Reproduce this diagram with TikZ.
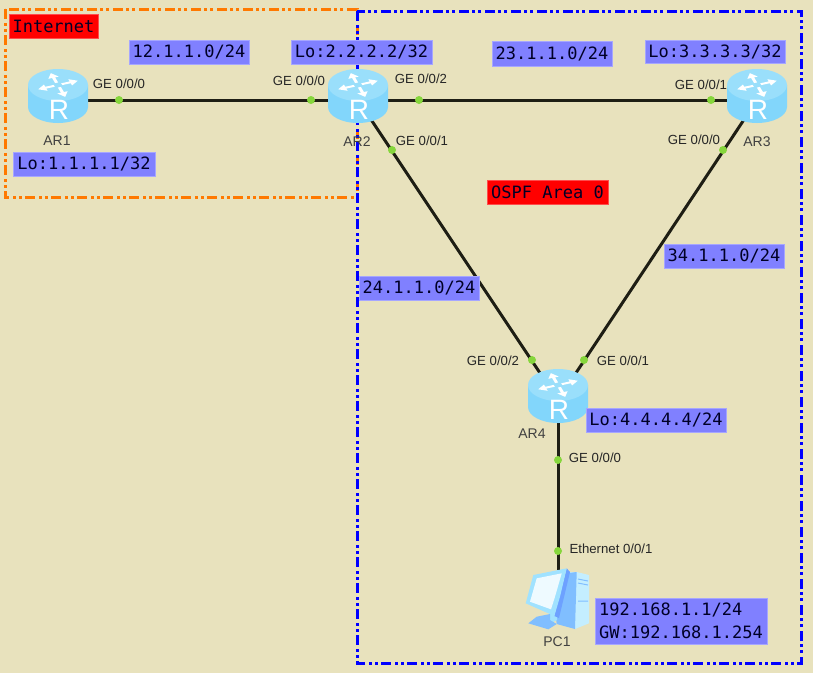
\documentclass[tikz,border=0pt]{standalone}
\usepackage{fontspec}
\setmainfont{Liberation Sans}
\setmonofont{DejaVu Sans Mono}
\definecolor{bgc}{HTML}{E8E2BD}
\definecolor{lblue}{HTML}{8080FF}
\definecolor{linec}{HTML}{1E1E14}
\definecolor{dotg}{HTML}{86D63C}
\definecolor{rtop}{HTML}{9ADFFB}
\definecolor{rbody}{HTML}{82D6FB}
\definecolor{pcblue}{HTML}{80BEFF}
\definecolor{pcpale}{HTML}{C4EEFF}
\definecolor{pcframe}{HTML}{A0E2FF}
\tikzset{
 x=1pt,y=-1pt,
 zone/.style={line width=3pt,dash pattern=on 10pt off 4pt on 3pt off 3pt on 3pt off 3pt},
 lab/.style={font=\ttfamily\fontsize{17}{23}\selectfont,text=black!85!blue,inner sep=0pt,align=left,anchor=center,draw=lblue!70!white,line width=.5pt},
 blab/.style={lab,fill=lblue},
 rlab/.style={lab,fill=red,draw=red!70!white},
 ifl/.style={font=\fontsize{13.2}{15}\selectfont,text=black!85,inner sep=0pt},
 dev/.style={font=\fontsize{14}{16}\selectfont,text=black!75,inner sep=0pt},
 dotn/.style={circle,fill=dotg,inner sep=0pt,minimum size=8pt},
 link/.style={line width=3pt,draw=linec},
 rnode/.style={inner sep=0pt,minimum width=60pt,minimum height=54pt},
}
\newcommand{\routericon}[1]{%
 \begin{scope}[shift={(#1)}]
  \fill[rbody] (-30,-15) -- (-30,7) arc[start angle=180,end angle=0,x radius=30,y radius=16] -- (30,-15) -- cycle;
  \fill[rtop] (0,-15) ellipse[x radius=30,y radius=16];
  \begin{scope}[shift={(0,-15)},yscale=.6]
  \foreach \a in {20,110,200,290}{
   \begin{scope}[rotate=\a]
   \fill[white] (4,-1.6) -- (13,-1.6) -- (13,-5.5) -- (21,0) -- (13,5.5) -- (13,1.6) -- (4,1.6) -- cycle;
   \end{scope}}
  \end{scope}
  \node[white,inner sep=0pt,font=\fontsize{28}{28}\selectfont] at (1,10) {R};
 \end{scope}}
\begin{document}
\begin{tikzpicture}
\useasboundingbox (0,0) rectangle (813,673);
\fill[bgc] (0,0) rectangle (813,673);
% zones
\draw[zone,draw=orange!95!red] (5,9) rectangle (357,197);
\draw[zone,draw=blue] (357,11) rectangle (801,663);
% device nodes
\node[rnode] (AR1) at (58,100) {};
\node[rnode] (AR2) at (358,100) {};
\node[rnode] (AR3) at (757,100) {};
\node[rnode] (AR4) at (558,400) {};
\node[rnode] (PC) at (558,600) {};
% links
\draw[link] (AR1.center) -- (AR2.center);
\draw[link] (AR2.center) -- (AR3.center);
\draw[link] (AR2.center) -- (AR4.center);
\draw[link] (AR3.center) -- (AR4.center);
\draw[link] (AR4.center) -- (PC.center);
% icons
\routericon{AR1.center}
\routericon{AR2.center}
\routericon{AR3.center}
\routericon{AR4.center}
% PC icon
\begin{scope}[shift={(PC.center)}]
 % tower
 \fill[pcpale] (10,-28) -- (18.7,-28) -- (31,-25) -- (31,23.3) -- (17,29) -- cycle;
 \fill[pcblue] (10.3,-27) -- (18.7,-28) -- (17,29) -- (-1.3,24) -- (-3,10) -- cycle;
 \draw[pcblue,line width=1pt] (20,-21) -- (30,-19) (20,-17) -- (30,-15) (20,1) -- (30,1);
 % base
 \fill[pcframe] (-8,10) -- (-1,10) -- (-1,20) -- (-5,22) -- (-8,22) -- cycle;
 \fill[pcblue] (-21.3,16.7) -- (-8,14) -- (-8,20) -- (-1.3,24) -- (-9.7,29.3) -- (-29.7,23.3) -- cycle;
 % monitor
 \fill[pcblue!85!blue] (8.7,-31.7) -- (12,-28) -- (1,18) -- (-3.7,16) -- cycle;
 \fill[pcframe] (-32.3,3.3) -- (-24.7,-25) -- (8.7,-31.7) -- (2,-3.3) -- (-3.7,16) -- cycle;
 \fill[white!82!pcframe] (-28,1.7) -- (-21.3,-21.7) -- (3.7,-26.7) -- (-3,-3.3) -- (-7,9.3) -- cycle;
\end{scope}
% dots
\node[dotn] (d1) at (119,100) {};
\node[dotn] (d2) at (311,100) {};
\node[dotn] (d3) at (419,100) {};
\node[dotn] (d4) at (711,100) {};
\node[dotn] (d5) at (392,150) {};
\node[dotn] (d6) at (723,150) {};
\node[dotn] (d7) at (532,360) {};
\node[dotn] (d8) at (584,360) {};
\node[dotn] (d9) at (558,460) {};
\node[dotn] (d10) at (558,551) {};
% interface labels
\node[ifl] (i1) at (119,84) {GE 0/0/0};
\node[ifl] (i2) at (299,81) {GE 0/0/0};
\node[ifl] (i3) at (421,79) {GE 0/0/2};
\node[ifl] (i4) at (701,85) {GE 0/0/1};
\node[ifl] (i5) at (422,141) {GE 0/0/1};
\node[ifl] (i6) at (694,140) {GE 0/0/0};
\node[ifl] (i7) at (493,361) {GE 0/0/2};
\node[ifl] (i8) at (623,361) {GE 0/0/1};
\node[ifl] (i9) at (595,458) {GE 0/0/0};
\node[ifl] (i10) at (611,549) {Ethernet 0/0/1};
% device names
\node[dev] (n1) at (57,141) {AR1};
\node[dev] (n2) at (357,142) {AR2};
\node[dev] (n3) at (757,142) {AR3};
\node[dev] (n4) at (532,434) {AR4};
\node[dev] (n5) at (557,642) {PC1};
% labels
\node[rlab,minimum width=89pt,minimum height=24pt] (t1) at (53.5,26) {Internet};
\node[rlab,minimum width=121pt,minimum height=24pt] (t2) at (547.5,192) {OSPF Area 0};
\node[blab,minimum width=120pt,minimum height=24pt] (a1) at (189,52) {12.1.1.0/24};
\node[blab,minimum width=141pt,minimum height=24pt] (a2) at (361.5,52) {Lo:2.2.2.2/32};
\node[blab,minimum width=120pt,minimum height=25pt] (a3) at (552,53.5) {23.1.1.0/24};
\node[blab,minimum width=140pt,minimum height=23pt] (a4) at (715,51.5) {Lo:3.3.3.3/32};
\node[blab,minimum width=142pt,minimum height=24pt] (a5) at (84,164) {Lo:1.1.1.1/32};
\node[blab,minimum width=120pt,minimum height=24pt] (a6) at (419,288) {24.1.1.0/24};
\node[blab,minimum width=120pt,minimum height=24pt] (a7) at (724,256) {34.1.1.0/24};
\node[blab,minimum width=140pt,minimum height=24pt] (a8) at (656,420) {Lo:4.4.4.4/24};
\node[blab,minimum width=172pt,minimum height=46pt] (a9) at (681,621) {192.168.1.1/24\\GW:192.168.1.254};
\end{tikzpicture}
\end{document}
